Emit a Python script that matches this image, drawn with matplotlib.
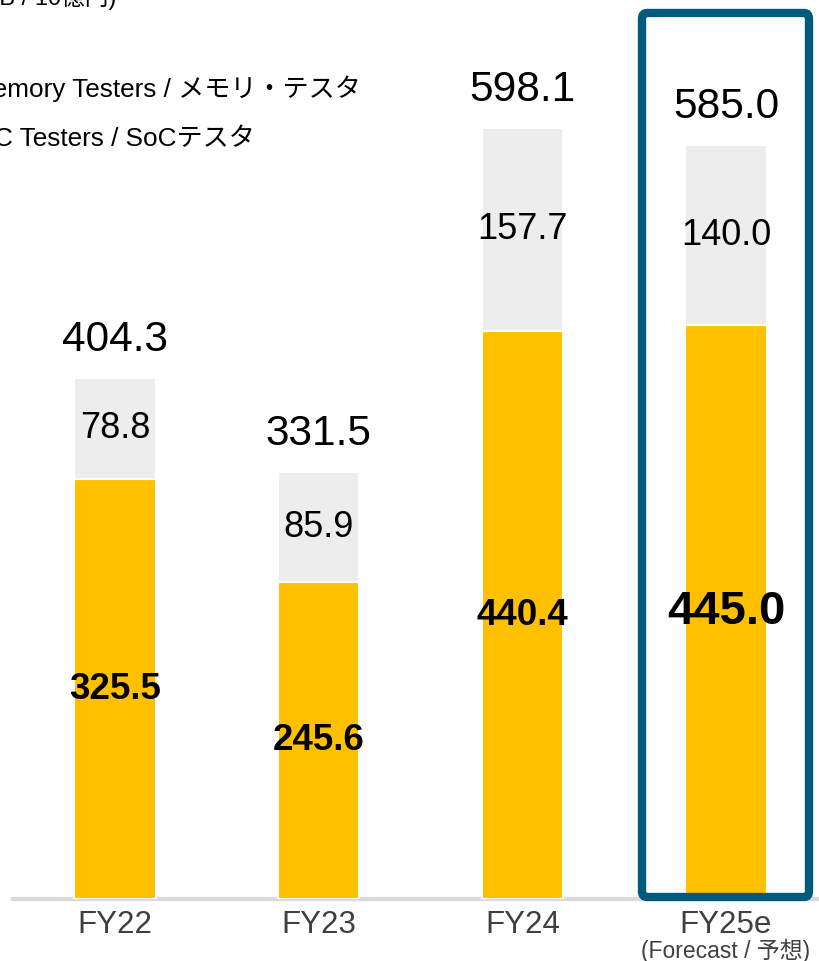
import matplotlib
matplotlib.use("Agg")
import matplotlib.pyplot as plt
from matplotlib.patches import FancyBboxPatch

plt.rcParams['font.family'] = ['Liberation Sans', 'Noto Sans CJK JP', 'DejaVu Sans']

categories = ["FY22", "FY23", "FY24", "FY25e"]
soc = [325.5, 245.6, 440.4, 445.0]
memory = [78.8, 85.9, 157.7, 140.0]
totals = [404.3, 331.5, 598.1, 585.0]
unit_label = "(JPY B / 10億円)"
legend_memory = "Memory Testers / メモリ・テスタ"
legend_soc = "SoC Testers / SoCテスタ"
forecast_note = "(Forecast / 予想)"

YELLOW = "#FFC000"
GRAY = "#EDEDED"
BOX = "#005A7D"

W, H = 820, 961
fig = plt.figure(figsize=(W / 100, H / 100), dpi=100)
ax = fig.add_axes([13 / W, 62 / H, 1 - 13 / W, 899 / H])
ax.set_xlim(-0.5008, 3.4615)
ax.set_ylim(0, 899 / 1.289)
for s in ax.spines.values():
    s.set_visible(False)
ax.set_xticks([])
ax.set_yticks([])
ax.axhline(0, color="#D9D9D9", lw=3, zorder=1, clip_on=False)

x = list(range(len(categories)))
ax.bar(x, soc, width=0.4, color=YELLOW, edgecolor="white", linewidth=1.5, zorder=2)
ax.bar(x, memory, width=0.4, bottom=soc, color=GRAY, edgecolor="white", linewidth=1.5, zorder=2)

for i in x:
    big = i == 3
    ax.text(i, soc[i] / 2, f"{soc[i]:.1f}", ha="center", va="center",
            fontsize=34 if big else 26.5, fontweight="bold", color="black", zorder=3)
    ax.text(i, soc[i] + memory[i] / 2, f"{memory[i]:.1f}", ha="center", va="center",
            fontsize=26, color="black", zorder=3)
    ax.annotate(f"{totals[i]:.1f}", (i, totals[i]), xytext=(0, 13), textcoords="offset points",
                ha="center", va="bottom", fontsize=30.5, color="black", zorder=3)
    ax.annotate(categories[i], (i, 0), xytext=(0, -8), textcoords="offset points",
                ha="center", va="top", fontsize=22.5, color="#404040", annotation_clip=False)

ax.annotate(forecast_note, (3, 0), xytext=(0, -28.5), textcoords="offset points",
            ha="center", va="top", fontsize=16.5, color="#404040", annotation_clip=False)

# highlight box (pixel coordinates)
box = FancyBboxPatch((642 / W, (H - 897) / H), (809 - 642) / W, (897 - 13) / H,
                     boxstyle="round,pad=0,rounding_size=0.006",
                     transform=fig.transFigure, fill=False, edgecolor=BOX, linewidth=6, zorder=5)
fig.patches.append(box)

fig.text(-58 / W, (H - 5) / H, unit_label, ha="left", va="baseline", fontsize=17, color="black")
fig.text(-29 / W, (H - 89) / H, legend_memory, ha="left", va="center", fontsize=18.8, color="black")
fig.text(-38 / W, (H - 139) / H, legend_soc, ha="left", va="center", fontsize=18.8, color="black")

fig.savefig("out.png", dpi=100)
